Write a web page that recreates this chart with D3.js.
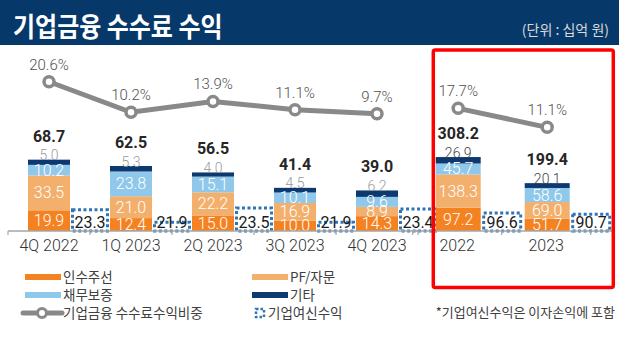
<!DOCTYPE html>
<html>
<head>
<meta charset="utf-8">
<script src="https://cdn.jsdelivr.net/npm/d3@7"></script>
<style>
  body { margin: 0; background: #fff; }
  svg { display: block; font-family: Roboto, "Noto Sans CJK KR", sans-serif; }
  .kr { font-family: "Noto Sans CJK KR", sans-serif; }
</style>
</head>
<body>
<div id="chart"></div>
<script>
// 분기 데이터
var quarters = ["4Q 2022", "1Q 2023", "2Q 2023", "3Q 2023", "4Q 2023"];
var underwritingQ = [19.9, 12.4, 15.0, 10.0, 14.3];
var pfAdvisoryQ = [33.5, 21.0, 22.2, 16.9, 8.9];
var guaranteeQ = [10.2, 23.8, 15.1, 10.1, 9.6];
var otherQ = [5.0, 5.3, 4.0, 4.5, 6.2];
var totalQ = [68.7, 62.5, 56.5, 41.4, 39.0];
var loanIncomeQ = [23.3, 21.9, 23.5, 21.9, 23.4];
var feeRatioQ = [20.6, 10.2, 13.9, 11.1, 9.7];

// 연간 데이터
var years = ["2022", "2023"];
var underwritingY = [97.2, 51.7];
var pfAdvisoryY = [138.3, 69.0];
var guaranteeY = [45.7, 58.6];
var otherY = [26.9, 20.1];
var totalY = [308.2, 199.4];
var loanIncomeY = [96.6, 90.7];
var feeRatioY = [17.7, 11.1];

var seriesNames = ["인수주선", "PF/자문", "채무보증", "기타"];
var colors = ["#F58220", "#F3B06D", "#8FC8EA", "#0C3A70"];

var width = 619, height = 337;
var baseY = 231;

var svg = d3.select("#chart")
  .append("svg")
  .attr("width", width)
  .attr("height", height);

// 타이틀 배너
svg.append("rect")
  .attr("x", 0).attr("y", 0)
  .attr("width", width).attr("height", 45)
  .attr("fill", "#07386A");

svg.append("text")
  .attr("class", "kr")
  .attr("transform", "translate(13,37) scale(1,1.12)")
  .attr("font-size", "24px")
  .attr("font-weight", "bold")
  .attr("fill", "#fff")
  .text("기업금융 수수료 수익");

svg.append("text")
  .attr("class", "kr")
  .attr("x", 609).attr("y", 35)
  .attr("text-anchor", "end")
  .attr("font-size", "14px")
  .attr("fill", "#d9d9d9")
  .text("(단위 : 십억 원)");

function drawPanel(p) {
  var rows = p.cats.map(function(c, i) {
    return { cat: c, s0: p.s[0][i], s1: p.s[1][i], s2: p.s[2][i], s3: p.s[3][i],
             total: p.total[i], loan: p.loan[i], ratio: p.ratio[i] };
  });

  var x = d3.scaleBand().domain(p.cats).range(p.xRange);
  var y = d3.scaleLinear().domain(p.yDomain).range([baseY, baseY - p.yPx]);
  var yLoan = d3.scaleLinear().domain(p.loanDomain).range([baseY, baseY - p.loanPx]);
  var yRatio = d3.scaleLinear().domain([0, 30]).range([p.ratioZero, p.ratioZero - p.ratioPx]);

  var stack = d3.stack().keys(["s0", "s1", "s2", "s3"]);
  var layers = stack(rows);

  var g = svg.append("g");

  // 누적 막대
  layers.forEach(function(layer, li) {
    g.selectAll(".seg" + li)
      .data(layer)
      .enter().append("rect")
      .attr("x", function(d) { return x(d.data.cat) + p.barOff; })
      .attr("y", function(d) { return y(d[1]); })
      .attr("width", p.barW)
      .attr("height", function(d) { return y(d[0]) - y(d[1]); })
      .attr("fill", colors[li]);
  });

  // 막대 안 라벨 (인수주선, PF/자문, 채무보증)
  layers.slice(0, 3).forEach(function(layer, li) {
    g.selectAll(".lab" + li)
      .data(layer)
      .enter().append("text")
      .attr("x", function(d) { return x(d.data.cat) + p.barOff + p.barW / 2; })
      .attr("y", function(d) { return (y(d[0]) + y(d[1])) / 2 + 5.5; })
      .attr("text-anchor", "middle")
      .attr("font-size", "16px")
      .attr("font-weight", 300)
      .attr("fill", "#fff")
      .text(function(d) { return (d[1] - d[0]).toFixed(1); });
  });

  // 기타 라벨 (막대 위)
  g.selectAll(".otherLab")
    .data(layers[3])
    .enter().append("text")
    .attr("x", function(d) { return x(d.data.cat) + p.barOff + p.barW / 2; })
    .attr("y", function(d) { return y(d[1]) + 0.5; })
    .attr("text-anchor", "middle")
    .attr("font-size", "14px")
    .attr("font-weight", 300)
    .attr("fill", p.otherColor)
    .text(function(d) { return (d[1] - d[0]).toFixed(1); });

  // 합계 라벨
  g.selectAll(".totalLab")
    .data(layers[3])
    .enter().append("text")
    .attr("x", function(d) { return x(d.data.cat) + p.barOff + p.barW / 2; })
    .attr("y", function(d) { return y(d[1]) - 18; })
    .attr("text-anchor", "middle")
    .attr("font-size", "16px")
    .attr("font-weight", "bold")
    .attr("fill", "#262626")
    .text(function(d) { return d.data.total.toFixed(1); });

  // 기업여신수익 점선 박스
  g.selectAll(".loanBox")
    .data(rows)
    .enter().append("rect")
    .attr("x", function(d) { return x(d.cat) + p.boxOff; })
    .attr("y", function(d) { return yLoan(d.loan); })
    .attr("width", p.boxW)
    .attr("height", function(d) { return baseY - yLoan(d.loan); })
    .attr("fill", "#fff")
    .attr("stroke", "#2E75B6")
    .attr("stroke-width", 3)
    .attr("stroke-dasharray", "3,2.5");

  g.selectAll(".loanLab")
    .data(rows)
    .enter().append("text")
    .attr("x", function(d) { return x(d.cat) + p.boxOff + p.boxW / 2; })
    .attr("y", baseY - 3)
    .attr("text-anchor", "middle")
    .attr("font-size", "16px")
    .attr("fill", "#1a1a1a")
    .text(function(d) { return d.loan.toFixed(1); });

  // 축
  g.append("line")
    .attr("x1", p.xRange[0]).attr("x2", p.axisEnd)
    .attr("y1", baseY).attr("y2", baseY)
    .attr("stroke", "#a6a6a6").attr("stroke-width", 1.5);

  var bounds = p.cats.map(function(c) { return x(c); }).concat([p.xRange[1]]);
  g.selectAll(".tk")
    .data(bounds)
    .enter().append("line")
    .attr("x1", function(d) { return d; }).attr("x2", function(d) { return d; })
    .attr("y1", baseY).attr("y2", baseY + 4)
    .attr("stroke", "#a6a6a6").attr("stroke-width", 1.2);

  var axis = g.append("g")
    .attr("transform", "translate(0," + baseY + ")")
    .call(d3.axisBottom(x).tickSize(0).tickPadding(9));
  axis.select(".domain").remove();
  axis.selectAll("text")
    .attr("font-family", "Roboto, sans-serif")
    .attr("font-size", "16px")
    .attr("font-weight", 300)
    .attr("fill", "#333");

  // 수수료수익비중 꺾은선
  var line = d3.line()
    .x(function(d) { return x(d.cat) + p.barOff + p.barW / 2; })
    .y(function(d) { return yRatio(d.ratio); });

  g.append("path")
    .datum(rows)
    .attr("d", line)
    .attr("fill", "none")
    .attr("stroke", "#898989")
    .attr("stroke-width", 5);

  g.selectAll(".pt")
    .data(rows)
    .enter().append("circle")
    .attr("cx", function(d) { return x(d.cat) + p.barOff + p.barW / 2; })
    .attr("cy", function(d) { return yRatio(d.ratio); })
    .attr("r", 5)
    .attr("fill", "#fff")
    .attr("stroke", "#898989")
    .attr("stroke-width", 3.5);

  g.selectAll(".ptLab")
    .data(rows)
    .enter().append("text")
    .attr("x", function(d) { return x(d.cat) + p.barOff + p.barW / 2; })
    .attr("y", function(d) { return yRatio(d.ratio) - 12; })
    .attr("text-anchor", "middle")
    .attr("font-size", "15px")
    .attr("font-weight", 300)
    .attr("fill", "#505050")
    .text(function(d) { return d.ratio.toFixed(1) + "%"; });
}

drawPanel({
  cats: quarters,
  s: [underwritingQ, pfAdvisoryQ, guaranteeQ, otherQ],
  total: totalQ, loan: loanIncomeQ, ratio: feeRatioQ,
  xRange: [8, 418], axisEnd: 418,
  barOff: 20, barW: 42, boxOff: 64.5, boxW: 35,
  yDomain: [0, 100], yPx: 104,
  loanDomain: [20.9, 23.5], loanPx: 23,
  ratioZero: 142.3, ratioPx: 88.2,
  otherColor: "#9a9a9a"
});

drawPanel({
  cats: years,
  s: [underwritingY, pfAdvisoryY, guaranteeY, otherY],
  total: totalY, loan: loanIncomeY, ratio: feeRatioY,
  xRange: [412.7, 590.7], axisEnd: 612,
  barOff: 23, barW: 45, boxOff: 71, boxW: 37,
  yDomain: [0, 400], yPx: 96,
  loanDomain: [0, 100], loanPx: 18.6,
  ratioZero: 159.3, ratioPx: 86.4,
  otherColor: "#404040"
});

// 범례
var legend = svg.append("g").attr("class", "kr");
var legendItems = [
  { name: seriesNames[0], color: colors[0], x: 25, y: 277 },
  { name: seriesNames[1], color: colors[1], x: 252, y: 277 },
  { name: seriesNames[2], color: colors[2], x: 25, y: 295 },
  { name: seriesNames[3], color: colors[3], x: 252, y: 295 }
];
legendItems.forEach(function(it) {
  legend.append("rect")
    .attr("x", it.x).attr("y", it.y - 3)
    .attr("width", 36).attr("height", 6)
    .attr("fill", it.color);
  legend.append("text")
    .attr("x", it.x + 38).attr("y", it.y + 5)
    .attr("font-size", "13.5px")
    .attr("fill", "#404040")
    .text(it.name);
});

legend.append("line")
  .attr("x1", 23).attr("x2", 62)
  .attr("y1", 313).attr("y2", 313)
  .attr("stroke", "#898989").attr("stroke-width", 5)
  .attr("stroke-linecap", "round");
legend.append("circle")
  .attr("cx", 42).attr("cy", 313).attr("r", 4.5)
  .attr("fill", "#fff").attr("stroke", "#898989").attr("stroke-width", 3);
legend.append("text")
  .attr("x", 63).attr("y", 318)
  .attr("font-size", "13.5px")
  .attr("fill", "#404040")
  .text("기업금융 수수료수익비중");

legend.append("rect")
  .attr("x", 256).attr("y", 309)
  .attr("width", 8).attr("height", 8)
  .attr("fill", "none")
  .attr("stroke", "#2E75B6").attr("stroke-width", 2.5)
  .attr("stroke-dasharray", "2.5,2");
legend.append("text")
  .attr("x", 268).attr("y", 318)
  .attr("font-size", "13.5px")
  .attr("fill", "#404040")
  .text("기업여신수익");

legend.append("text")
  .attr("x", 615).attr("y", 317)
  .attr("text-anchor", "end")
  .attr("font-size", "13px")
  .attr("fill", "#404040")
  .text("*기업여신수익은 이자손익에 포함");

// 빨간 강조 박스
svg.append("rect")
  .attr("x", 433.3).attr("y", 50)
  .attr("width", 180).attr("height", 237.5)
  .attr("rx", 2)
  .attr("fill", "none")
  .attr("stroke", "#ff0000")
  .attr("stroke-width", 3.5);
</script>
</body>
</html>
